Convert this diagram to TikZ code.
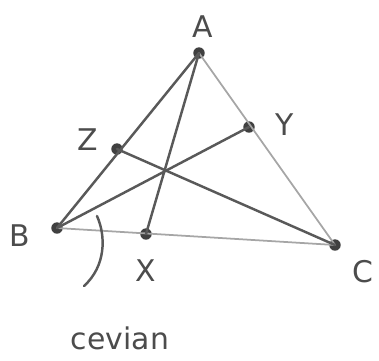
\documentclass[tikz,border=0pt]{standalone}
\usepackage{fontspec}
\setmainfont{DejaVu Sans}
\begin{document}
\begin{tikzpicture}[x=0.02cm,y=-0.02cm,
  dk/.style={draw=black!65,line width=1.4pt,line cap=round},
  lt/.style={draw=black!35,line width=1.0pt,line cap=round},
  pt/.style={circle,fill=black!75,inner sep=0pt,minimum size=6.5pt},
  lbl/.style={font=\fontsize{17}{17}\selectfont\color{black!70}}]
\useasboundingbox (0,0) rectangle (379,360);
\node[pt] (A) at (199,53) {};
\node[pt] (B) at (57,228) {};
\node[pt] (C) at (335,245) {};
\node[pt] (X) at (146,234) {};
\node[pt] (Y) at (249,127) {};
\node[pt] (Z) at (117,149) {};
\draw[dk] (A.center) -- (B.center);
\draw[lt] (A.center) -- (C.center);
\draw[lt] (B.center) -- (C.center);
\draw[dk] (A.center) -- (X.center);
\draw[dk] (B.center) -- (Y.center);
\draw[dk] (Z.center) -- (C.center);
\node[lbl] (lA) at (203,27) {A};
\node[lbl] (lY) at (285,125) {Y};
\node[lbl] (lZ) at (88,140) {Z};
\node[lbl] (lB) at (20,236) {B};
\node[lbl] (lX) at (146,271) {X};
\node[lbl] (lC) at (363,272) {C};
\node[lbl] (lcev) at (120,338) {cevian};
\coordinate (a1) at (97,216);
\coordinate (a2) at (84,286);
\draw[dk] (a1) .. controls (106,236) and (106,266) .. (a2);
\end{tikzpicture}
\end{document}
